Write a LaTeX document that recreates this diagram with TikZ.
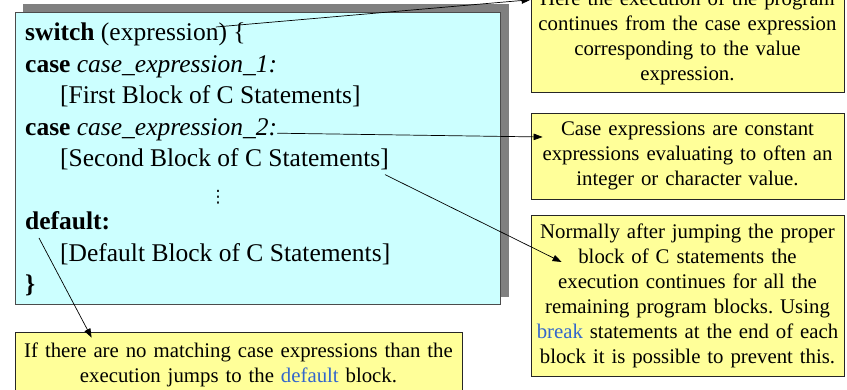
\documentclass[tikz,border=0pt]{standalone}
\usepackage{fontspec}
\setmainfont{Liberation Serif}
\newfontfamily\symfont{DejaVu Sans}
\usetikzlibrary{calc,arrows.meta}

\definecolor{codebg}{RGB}{204,255,255}
\definecolor{notebg}{RGB}{255,255,153}
\definecolor{shadowgray}{RGB}{128,128,128}
\definecolor{kwblue}{RGB}{51,102,204}

\frenchspacing

\tikzset{
	code/.style={inner sep=0pt, font=\fontsize{25.5}{31.5}\selectfont},
	note/.style={draw=black!85, fill=notebg, line width=0.8pt, inner sep=4pt, text width=305pt, minimum width=313pt, align=center, font=\fontsize{20.8}{25}\selectfont},
	arr/.style={line width=0.7pt, -{Triangle[length=9pt,width=6.5pt]}}
}

\begin{document}
\begin{tikzpicture}[x=1pt, y=-1pt]
			%%%%% START %%%%%
			\useasboundingbox (0,0) rectangle (847,390);
			\clip (0,0) rectangle (847,390);
			
			% code box with its shadow
			\draw[fill=shadowgray, draw=none] (23,4) rectangle (509,297);
			\draw[fill=codebg, draw=black!70, line width=0.8pt] (15,12) rectangle (500,304);
			
			\node[code, anchor=base west] (sw) at (25,41) {\textbf{switch} (expression) \{};
			\node[code, anchor=base west] (c1) at (25,72.5) {\textbf{case} \textit{case\_expression\_1:}};
			\node[code, anchor=base west] (s1) at (60,104) {[First Block of C Statements]};
			\node[code, anchor=base west] (c2) at (25,135.5) {\textbf{case} \textit{case\_expression\_2:}};
			\node[code, anchor=base west] (s2) at (60,167) {[Second Block of C Statements]};
			\node[code, font=\symfont\fontsize{17}{17}\selectfont] (dots) at (218,197) {⋮};
			\node[code, anchor=base west] (df) at (25,230) {\textbf{default:}};
			\node[code, anchor=base west] (s3) at (60,261.5) {[Default Block of C Statements]};
			\node[code, anchor=base west] (cl) at (25,293) {\textbf{\}}};
			
			% notes
			\node[note, minimum height=109pt] (n1) at (687.5,37.5) {Here the execution of the program\\ continues from the case expression\\ corresponding to the value\\ expression.};
			\node[note, minimum height=86pt] (n2) at (687.5,156) {Case expressions are constant\\ expressions evaluating to often an\\ integer or character value.};
			\node[note, minimum height=161pt] (n3) at (687.5,295.5) {Normally after jumping the proper\\ block of C statements the\\ execution continues for all the\\ remaining program blocks. Using\\ \textcolor{kwblue}{break} statements at the end of each\\ block it is possible to prevent this.};
			\node[note, text width=439pt, minimum width=447pt, minimum height=65pt] (n4) at (238.5,364.5) {If there are no matching case expressions than the\\ execution jumps to the \textcolor{kwblue}{default} block.};
			
			% arrows
			\draw[arr] ($(sw.base east)+(-30,-14)$) -- ($(n1.north west)!0.156!(n1.south west)$);
			\draw[arr] (c2.mid east) -- ($(n2.west)+(12,-19)$);
			\draw[arr] ($(s2.south east)+(-4,4)$) -- ($(n3.west)+(31,-33.5)$);
			\draw[arr] ($(df.base west)+(14,8)$) -- ($(n4.north west)+(77,6)$);
			%%%%% END %%%%%
\end{tikzpicture}
\end{document}
